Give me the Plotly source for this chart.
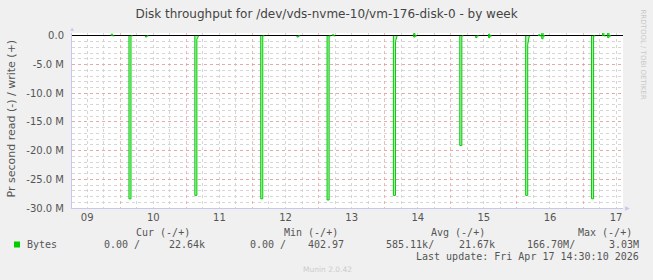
import plotly.graph_objects as go
from datetime import datetime, timedelta

# ---------------- data ----------------
read_spike_start = ["2026-04-10 03:10", "2026-04-11 03:05", "2026-04-12 03:00", "2026-04-13 03:05",
                    "2026-04-14 03:10", "2026-04-15 03:15", "2026-04-16 03:10", "2026-04-17 03:05"]
read_spike_m = [28.4, 27.8, 28.4, 28.6, 27.8, 19.1, 27.8, 28.4]
read_spike_tail_m = [0.0, 0.6, 0.0, 0.0, 1.0, 0.0, 1.5, 0.0]

read_blip_time = ["2026-04-10 09:10", "2026-04-12 16:10", "2026-04-14 10:30", "2026-04-15 09:00",
                  "2026-04-15 13:40", "2026-04-16 09:00", "2026-04-17 08:55"]
read_blip_m = [0.2, 0.2, 0.2, 0.3, 0.3, 0.5, 0.3]

write_blip_time = ["2026-04-09 20:45", "2026-04-13 05:00", "2026-04-14 10:30", "2026-04-15 13:40",
                   "2026-04-16 07:50", "2026-04-16 09:00", "2026-04-17 07:05", "2026-04-17 08:55"]
write_blip_m = [0.3, 0.2, 0.4, 0.3, 0.2, 0.6, 0.6, 0.5]

range_start = "2026-04-09 06:30"
range_end = "2026-04-17 14:30"

y_tick_vals = [0, -5e6, -10e6, -15e6, -20e6, -25e6, -30e6]
y_tick_text = ["0.0", "-5.0 M", "-10.0 M", "-15.0 M", "-20.0 M", "-25.0 M", "-30.0 M"]

legend_name = "Bytes"
stat_headers = ["Cur (-/+)", "Min (-/+)", "Avg (-/+)", "Max (-/+)"]
stat_read = ["0.00 /", "0.00 /", "585.11k/", "166.70M/"]
stat_write = ["22.64k", "402.97", "21.67k", "3.03M"]
last_update = "Last update: Fri Apr 17 14:30:10 2026"

title = "Disk throughput for /dev/vds-nvme-10/vm-176-disk-0 - by week"
y_title = "Pr second read (-) / write (+)"

# ---------------- build ----------------
FMT = "%Y-%m-%d %H:%M"
def P(s):
    return datetime.strptime(s, FMT)

def build(events, sign):
    events = sorted(events)
    xs, ys = [], []
    for start, val, dur, tail in events:
        s = P(start)
        e = s + timedelta(minutes=dur)
        xs += [s, s, e, e, e + timedelta(minutes=35), None]
        ys += [0, sign * val * 1e6, sign * val * 1e6, sign * tail * 1e6, 0, None]
    return xs, ys

read_events = [(t, v, 45, tl) for t, v, tl in zip(read_spike_start, read_spike_m, read_spike_tail_m)]
read_events += [(t, v, 30, 0.0) for t, v in zip(read_blip_time, read_blip_m)]
write_events = [(t, v, 30, 0.0) for t, v in zip(write_blip_time, write_blip_m)]

rx, ry = build(read_events, -1)
wx, wy = build(write_events, 1)

GREEN = "#00cc00"
FILL = "rgba(0,204,0,0.3)"

fig = go.Figure()
fig.add_trace(go.Scatter(x=rx, y=ry, mode="lines", line=dict(color=GREEN, width=1), connectgaps=False,
                         fill="tozeroy", fillcolor=FILL, showlegend=False, hoverinfo="skip"))
fig.add_trace(go.Scatter(x=wx, y=wy, mode="lines", line=dict(color=GREEN, width=1), connectgaps=False,
                         fill="tozeroy", fillcolor=FILL, showlegend=False, hoverinfo="skip"))

# plot area in pixels
L, R, T, B = 72, 623, 33, 208
W, H = 653, 280
def px(x):
    return (x - L) / (R - L)
def py(y):
    return (B - y) / (B - T)

TXT = "#555555"
MONO = "DejaVu Sans Mono"
SANS = "DejaVu Sans"
RED_GRID = "rgba(235,140,140,0.6)"
GREY_GRID = "#d6d6d6"
AXIS = "#c8c8ee"

def A(x, y, text, xanchor="center", **kw):
    d = dict(x=px(x), y=py(y), xref="paper", yref="paper", text=text, showarrow=False,
             xanchor=xanchor, yanchor="middle")
    d.update(kw)
    return d

ann = []
ann.append(A(10.5, 119, y_title, textangle=-90, font=dict(family=SANS, size=11, color=TXT)))
ann.append(A(642.5, 54, "RRDTOOL / TOBI OETIKER", textangle=90,
             font=dict(family=SANS, size=7, color="#c8c8c8")))
ann.append(A(72, 29, "▲", font=dict(size=6, color=AXIS)))
ann.append(A(627, 208, "▶", font=dict(size=6, color=AXIS)))
ann.append(A(25, 244.5, legend_name, xanchor="left", font=dict(family=MONO, size=10, color=TXT)))
header_right = [191.5, 339.5, 486.5, 633.5]
read_right = [142.0, 288.0, 436.0, 577.0]
write_right = [206.5, 345.5, 496.5, 640.5]
for h, xr in zip(stat_headers, header_right):
    ann.append(A(xr, 232, h, xanchor="right", font=dict(family=MONO, size=10, color=TXT)))
for v, xr in zip(stat_read, read_right):
    ann.append(A(xr, 244.5, v, xanchor="right", font=dict(family=MONO, size=10, color=TXT)))
for v, xr in zip(stat_write, write_right):
    ann.append(A(xr, 244.5, v, xanchor="right", font=dict(family=MONO, size=10, color=TXT)))
ann.append(A(640.5, 256.5, last_update, xanchor="right", font=dict(family=MONO, size=10, color=TXT)))
ann.append(A(327, 269.5, "Munin 2.0.42", font=dict(family=SANS, size=7.5, color="#cccccc")))

shapes = [dict(type="rect", xref="paper", yref="paper", x0=px(14), x1=px(20), y0=py(247.5), y1=py(241.5),
               fillcolor=GREEN, line=dict(width=0))]

fig.update_layout(
    width=W, height=H, autosize=False,
    margin=dict(l=L, r=W - R, t=T, b=H - B, pad=0),
    paper_bgcolor="#f0f0f0", plot_bgcolor="#ffffff",
    title=dict(text=title, x=0.5, xref="container", xanchor="center", y=1 - 13.5 / H, yref="container",
               yanchor="middle", font=dict(family=SANS, size=12, color="#444444")),
    showlegend=False,
    annotations=ann, shapes=shapes,
    xaxis=dict(type="date", range=[range_start, range_end], tick0="2026-04-09", dtick=86400000,
               tickformat="%d", ticklabelmode="period", ticks="",
               showgrid=True, gridcolor=RED_GRID, griddash="dot", gridwidth=1,
               minor=dict(tick0="2026-04-09", dtick=21600000, showgrid=True, gridcolor=GREY_GRID,
                          griddash="dot", gridwidth=1, ticks=""),
               showline=True, linecolor=AXIS, linewidth=1, zeroline=False,
               tickfont=dict(family=SANS, size=10, color=TXT), fixedrange=True),
    yaxis=dict(range=[-30e6, 0.5e6], tickmode="array", tickvals=y_tick_vals, ticktext=y_tick_text,
               ticks="", ticklabelstandoff=5, showgrid=True, gridcolor=RED_GRID, griddash="dot", gridwidth=1,
               minor=dict(tickmode="linear", tick0=0, dtick=1e6, showgrid=True, gridcolor=GREY_GRID,
                          griddash="dot", gridwidth=1, ticks=""),
               zeroline=True, zerolinecolor="#000000", zerolinewidth=1,
               showline=True, linecolor=AXIS, linewidth=1,
               tickfont=dict(family=SANS, size=10, color=TXT), fixedrange=True),
)

fig.write_html("out.html")
